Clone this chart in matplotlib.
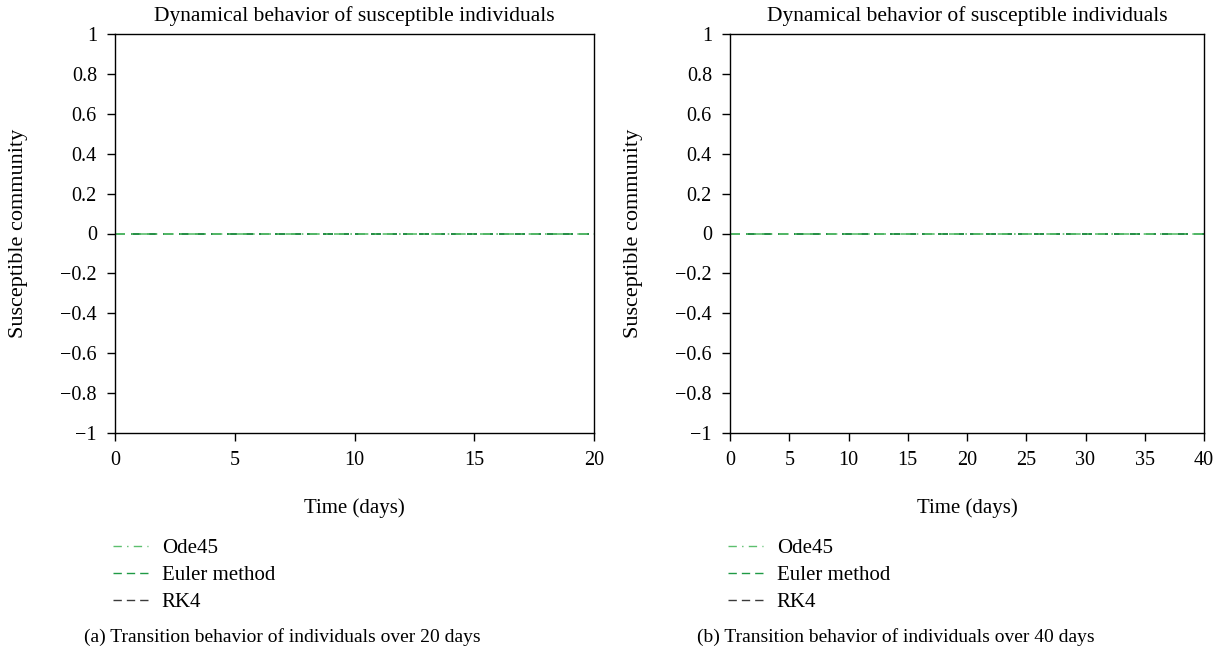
import matplotlib
matplotlib.use("Agg")
import matplotlib.pyplot as plt
from matplotlib.lines import Line2D

plt.rcParams['font.family'] = ['Liberation Serif', 'DejaVu Serif']
plt.rcParams['font.size'] = 14.5
plt.rcParams['axes.unicode_minus'] = True

# --- Data ---
t_20 = [0, 2.5, 5, 7.5, 10, 12.5, 15, 17.5, 20]
s_20 = [0, 0, 0, 0, 0, 0, 0, 0, 0]
t_40 = [0, 5, 10, 15, 20, 25, 30, 35, 40]
s_40 = [0, 0, 0, 0, 0, 0, 0, 0, 0]

methods = ['Ode45', 'Euler method', 'RK4']
colors = ['#5cbf6e', '#1f9a45', '#3a3a3a']
styles = [(0, (6, 3.8, 1, 3.8)), (0, (6, 3.6)), (0, (6, 3.6))]

xticks_20 = [0, 5, 10, 15, 20]
xticks_40 = [0, 5, 10, 15, 20, 25, 30, 35, 40]
yticks = [-1, -0.8, -0.6, -0.4, -0.2, 0, 0.2, 0.4, 0.6, 0.8, 1]
ytick_labels = ['\u22121', '\u22120.8', '\u22120.6', '\u22120.4', '\u22120.2',
                '0', '0.2', '0.4', '0.6', '0.8', '1']

captions = ['(a) Transition behavior of individuals over 20 days',
            '(b) Transition behavior of individuals over 40 days']

fig = plt.figure(figsize=(12.24, 6.54), dpi=100)

W, H = 1224, 654
panels = [
    (115, 594, t_20, s_20, 20, xticks_20, 84),
    (730, 1204, t_40, s_40, 40, xticks_40, 697),
]

for i, (x0, x1, t, s, tmax, xt, capx) in enumerate(panels):
    ax = fig.add_axes([x0 / W, 1 - 433 / H, (x1 - x0) / W, (433 - 34) / H])
    # RK4 drawn first, then Euler, then Ode45 on top
    for m, c, ls in reversed(list(zip(methods, colors, styles))):
        ax.plot(t, s, color=c, linestyle=ls, linewidth=1.2, label=m)
    ax.set_xlim(0, tmax)
    ax.set_ylim(-1, 1)
    ax.set_xticks(xt)
    ax.set_yticks(yticks)
    ax.set_yticklabels(ytick_labels)
    ax.tick_params(direction='out', length=6, width=1, pad=7)
    for sp in ax.spines.values():
        sp.set_linewidth(1)
    ax.set_title('Dynamical behavior of susceptible individuals', fontsize=15.5, pad=9)
    ax.set_ylabel('Susceptible community', fontsize=16, labelpad=23)
    ax.set_xlabel('Time (days)', fontsize=15, labelpad=20)

    handles = [Line2D([], [], color=c, linestyle=ls, linewidth=1.0)
               for c, ls in zip(colors, styles)]
    fig.legend(handles, methods, loc='upper left',
               bbox_to_anchor=((x0 - 21) / W, 1 - 520 / H),
               frameon=False, handlelength=1.7, handletextpad=0.65,
               labelspacing=0.35, fontsize=15)
    fig.text(capx / W, 1 - 637 / H, captions[i], ha='left', va='center', fontsize=14)

fig.savefig('out.png', dpi=100)
